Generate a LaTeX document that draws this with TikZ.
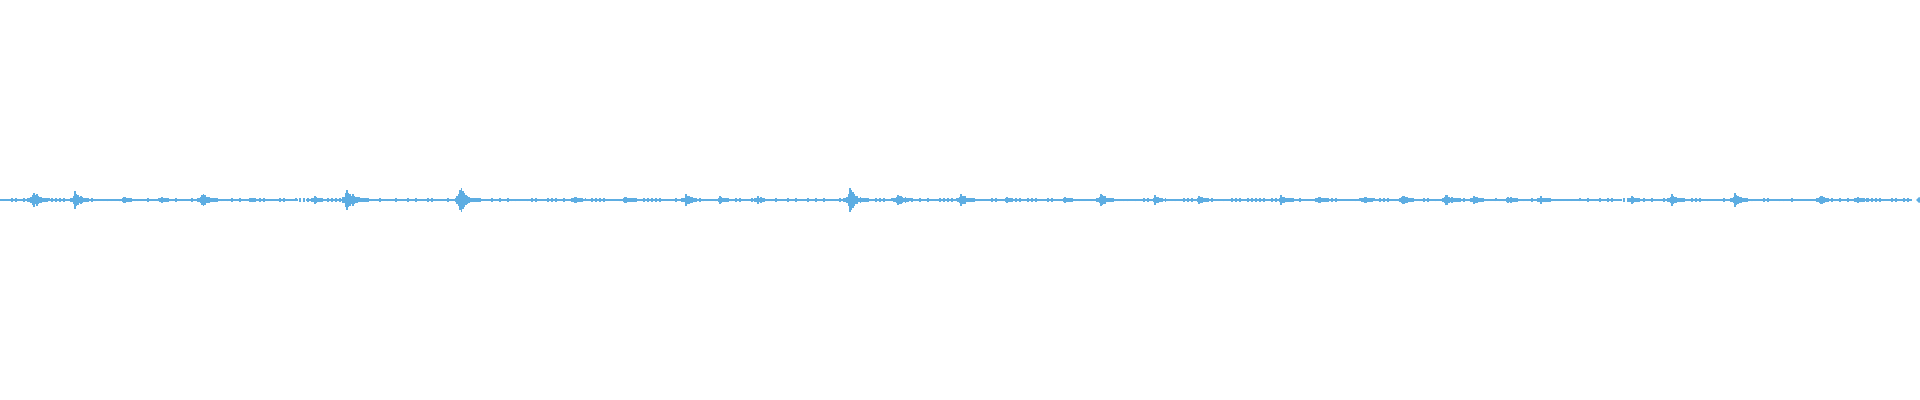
\documentclass[tikz,border=0pt]{standalone}
\usetikzlibrary{calc}

\definecolor{wave}{HTML}{5DADE2}

\begin{document}
\begin{tikzpicture}[x=0.5pt,y=0.5pt,
        bar/.style={wave, line width=0.8pt},
        baseline/.style={wave, line width=1pt}
      ]
  \pgfmathsetseed{42}
  \useasboundingbox (0,0) rectangle (1920,400);

  % zero line, with two short drop-outs
  \draw[baseline] (0,200) -- (298,200);
  \draw[baseline] (306,200) -- (1622,200);
  \draw[baseline] (1629,200) -- (1912,200);

  % low noise floor
  \foreach \x in {0,4,...,1908} {
    \pgfmathsetmacro{\h}{0.6+1.6*rnd}
    \draw[bar] (\x,200-\h) -- (\x,200+\h);
  }

  % bursts: position / peak amplitude
  \foreach \px/\amp in {34/8,75/8,124/3,162/2,202/7,251/2,315/3,347/14,
      460/14,575/3,625/3,686/6,720/3,758/3,850/12,898/6,961/6,1007/2,
      1065/2,1101/6,1155/4,1199/3,1281/4,1319/3,1365/3,1403/4,1446/6,
      1474/3,1508/3,1541/3,1632/3,1672/5,1735/6,1821/4,1858/3} {
    \foreach \i in {0,...,14} {
      \pgfmathsetmacro{\h}{1+\amp*exp(-\i/4)*(0.5+0.5*rnd)}
      \draw[bar] (\px+1.5*\i,200-\h) -- (\px+1.5*\i,200+\h);
    }
    \foreach \i in {1,...,3} {
      \pgfmathsetmacro{\h}{1+0.5*\amp*(0.4+0.6*rnd)/\i}
      \draw[bar] (\px-1.5*\i,200-\h) -- (\px-1.5*\i,200+\h);
    }
  }

  % end marker
  \fill[wave] (1916,200) -- (1919,203) -- (1922,200) -- (1919,197) -- cycle;
\end{tikzpicture}
\end{document}
